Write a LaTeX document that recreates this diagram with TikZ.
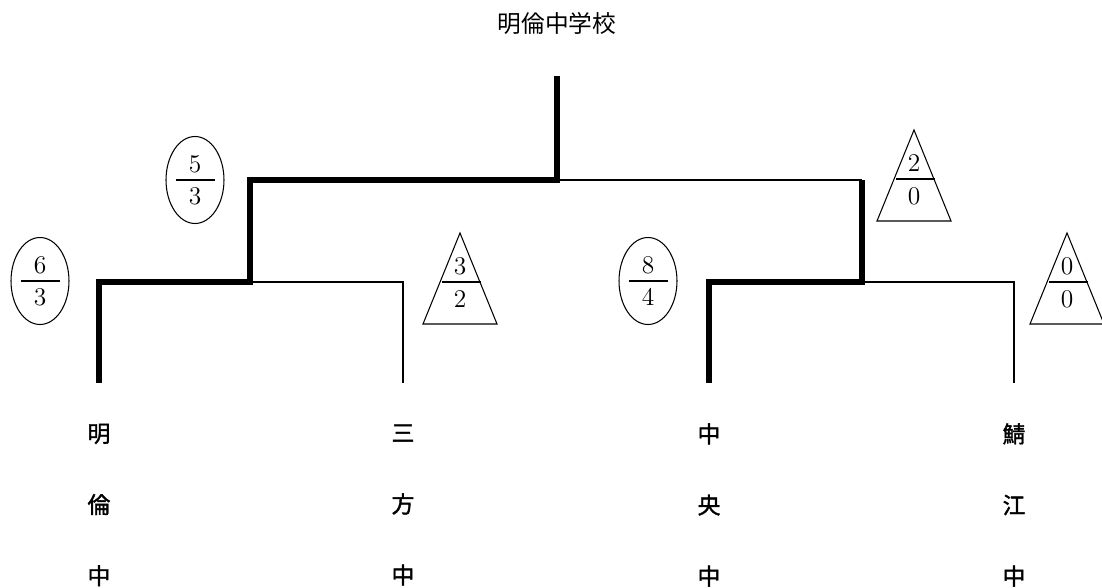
\documentclass[tikz,border=0pt]{standalone}
\usepackage{fontspec}
\usepackage{tikz}
\newfontfamily\cjk{Noto Sans CJK JP}
\newfontfamily\cjkb[FakeBold=1.6]{Noto Sans CJK JP}
\tikzset{
  win/.style={line width=3.6pt,line join=miter},
  lose/.style={line width=1.2pt},
  team/.style={font=\cjkb\fontsize{13}{40.5}\selectfont,align=center,inner sep=0pt},
  digit/.style={font=\fontsize{14.5}{16}\selectfont,inner sep=0pt},
  bar/.style={line width=1pt},
  frame/.style={line width=0.6pt}
}

\begin{document}
\begin{tikzpicture}[x=0.02cm,y=-0.02cm]
  \useasboundingbox (0,0) rectangle (1102,588);
  \node[font=\cjk\fontsize{13.5}{16}\selectfont] (title) at (557,24) {明倫中学校};
  % bracket corners
  \coordinate (top) at (557,76);
  \coordinate (root) at (557,180);
  \coordinate (semiL) at (250,180);
  \coordinate (semiR) at (862,180);
  \coordinate (forkL) at (250,282);
  \coordinate (forkR) at (862,282);
  \coordinate (legA) at (99,282);
  \coordinate (legB) at (403,282);
  \coordinate (legC) at (709,282);
  \coordinate (legD) at (1014,282);
  \coordinate (endA) at (99,383);
  \coordinate (endB) at (403,383);
  \coordinate (endC) at (709,383);
  \coordinate (endD) at (1014,383);
  % teams
  \node[team] (meirin) at (99,505) {明\\倫\\中};
  \node[team] (mikata) at (403,505) {三\\方\\中};
  \node[team] (chuo) at (709,505) {中\\央\\中};
  \node[team] (sabae) at (1014,505) {鯖\\江\\中};
  % lines
  \draw[win] (top) -- (root) -- (semiL) -- (forkL) -- (legA) -- (endA);
  \draw[lose] (root) -- (semiR);
  \draw[win] (semiR) -- (forkR) -- (legC) -- (endC);
  \draw[lose] (forkL) -- (legB) -- (endB);
  \draw[lose] (forkR) -- (legD) -- (endD);
  % scores, winners
  \foreach \i/\cx/\cy/\n/\d in {a/195/180/5/3, b/40/281/6/3, c/648/281/8/4} {
    \draw[frame] (\cx,\cy) ellipse (0.58cm and 0.87cm);
    \node[digit] (num-\i) at (\cx,\cy-16) {\n};
    \node[digit] (den-\i) at (\cx,\cy+16) {\d};
    \draw[bar] (\cx-19.5,\cy) -- (\cx+19.5,\cy);
  }
  % scores, losers
  \foreach \i/\cx/\cy/\n/\d in {d/460/282/3/2, e/914/179/2/0, f/1067/282/0/0} {
    \draw[frame] (\cx,\cy-49) -- (\cx+37,\cy+42) -- (\cx-37,\cy+42) -- cycle;
    \node[digit] (num-\i) at (\cx,\cy-16) {\n};
    \node[digit] (den-\i) at (\cx,\cy+17) {\d};
    \draw[bar] (\cx-18,\cy) -- (\cx+21,\cy);
  }
\end{tikzpicture}
\end{document}
